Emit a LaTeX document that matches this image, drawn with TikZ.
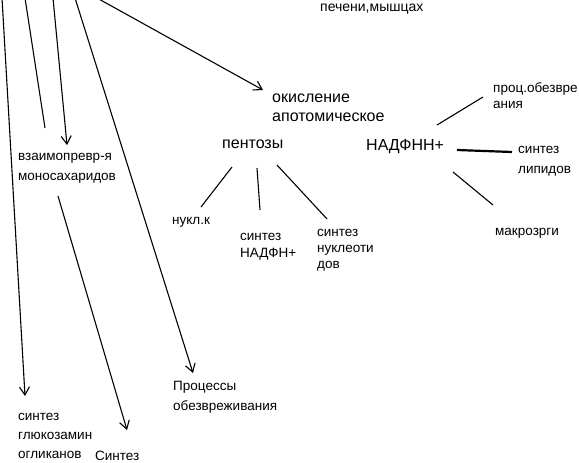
\documentclass[tikz,border=0pt]{standalone}
\usepackage{fontspec}
\setmainfont{Liberation Sans}
\usepackage{tikz}
\usetikzlibrary{arrows.meta,positioning}

\begin{document}
\begin{tikzpicture}[
    x=1pt, y=-1pt,
    lbl/.style={inner sep=0pt, anchor=base west, align=left, font=\fontsize{13.5}{19}\selectfont},
    biglbl/.style={inner sep=0pt, anchor=base west, align=left, font=\fontsize{16}{19}\selectfont},
    ln/.style={line width=1.1pt},
    arr/.style={line width=1.1pt, -{Straight Barb[length=8pt,width=10pt,line width=1.1pt]}},
]
    \useasboundingbox (0,0) rectangle (579,463);

    % free ends at the top edge
    \coordinate (t1) at (2,-2);
    \coordinate (t2) at (25,-2);
    \coordinate (t3) at (53,-2);
    \coordinate (t4) at (75,-2);
    \coordinate (t5) at (97,-2);

    % nodes sit on the baseline of their last line
    \node[lbl, font=\fontsize{14}{19}\selectfont] (liver) at (320,12) {печени,мышцах};
    \node[biglbl] (okisl) at (272,121) {окисление\\апотомическое};
    \node[biglbl] (pent) at (222,148) {пентозы};
    \node[biglbl] (nadph) at (366,150) {НАДФНН+};
    \node[lbl, font=\fontsize{13.5}{16}\selectfont] (obezv) at (493,108) {проц.обезвре\\ания};
    \node[lbl, font=\fontsize{13.5}{20}\selectfont] (lipid) at (518,173) {синтез\\липидов};
    \node[lbl] (makro) at (495,235) {макрозрги};
    \node[lbl] (nukl) at (172,224) {нукл.к};
    \node[lbl, font=\fontsize{13.5}{17}\selectfont] (snadph) at (240,257) {синтез\\НАДФН+};
    \node[lbl, font=\fontsize{13.5}{16}\selectfont] (snukl) at (317,268) {синтез\\нуклеоти\\дов};
    \node[lbl, font=\fontsize{13.5}{20}\selectfont] (vzaim) at (18,180) {взаимопревр-я\\моносахаридов};
    \node[lbl, font=\fontsize{13.5}{20}\selectfont] (detox) at (173,410) {Процессы\\обезвреживания};
    \node[lbl] (glyk) at (18,458) {синтез\\глюкозамин\\огликанов};
    \node[lbl] (sint) at (95,460) {Синтез};

    % arrows coming in from the top
    \draw[arr] (t1) -- ([xshift=7pt,yshift=62pt]glyk.base west);
    \draw[ln] (t2) -- ([xshift=27pt,yshift=52pt]vzaim.base west);
    \draw[arr] (t3) -- ([xshift=49pt,yshift=35pt]vzaim.base west);
    \draw[arr] (t4) -- ([xshift=20pt,yshift=37pt]detox.base west);
    \draw[arr] (t5) -- ([xshift=-9pt,yshift=31pt]okisl.base west);
    \draw[arr] ([xshift=40pt,yshift=-16pt]vzaim.base west) -- ([xshift=32pt,yshift=30pt]sint.base west);

    % pentoses
    \draw[ln] ([xshift=10pt,yshift=-19pt]pent.base west) -- ([xshift=29pt,yshift=17pt]nukl.base west);
    \draw[ln] ([xshift=35pt,yshift=-20pt]pent.base west) -- ([xshift=20pt,yshift=47pt]snadph.base west);
    \draw[ln] ([xshift=55pt,yshift=-17pt]pent.base west) -- ([xshift=10pt,yshift=49pt]snukl.base west);

    % NADPH
    \draw[ln] ([xshift=71pt,yshift=25pt]nadph.base west) -- ([xshift=-10pt,yshift=11pt]obezv.base west);
    \draw[line width=2.2pt] ([xshift=91pt]nadph.base west) -- ([xshift=-6pt,yshift=21pt]lipid.base west);
    \draw[ln] ([xshift=87pt,yshift=-22pt]nadph.base west) -- ([xshift=-2pt,yshift=30pt]makro.base west);
\end{tikzpicture}
\end{document}
